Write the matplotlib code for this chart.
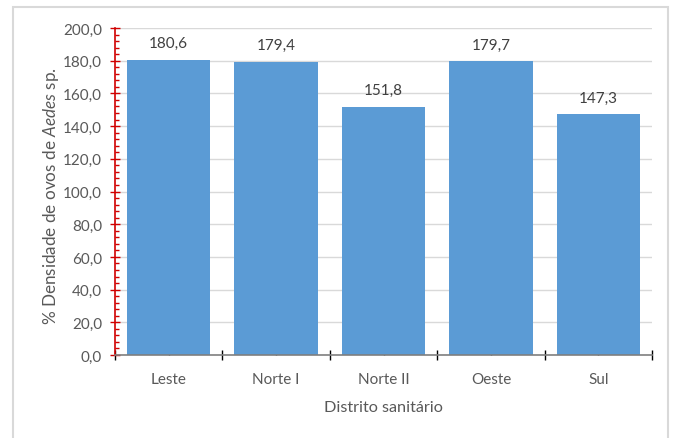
import matplotlib
matplotlib.use("Agg")
import matplotlib.pyplot as plt
from matplotlib.ticker import MultipleLocator, FuncFormatter, FixedLocator
from matplotlib.patches import Rectangle

categories = ["Leste", "Norte I", "Norte II", "Oeste", "Sul"]
values = [180.6, 179.4, 151.8, 179.7, 147.3]

FONT = "Lato"
plt.rcParams['font.family'] = [FONT, 'DejaVu Sans']
plt.rcParams['mathtext.fontset'] = 'custom'
plt.rcParams['mathtext.rm'] = FONT
plt.rcParams['mathtext.it'] = FONT + ':italic'

TXT = "#595959"
BAR = "#5B9BD5"
RED = "#D00000"

fig = plt.figure(figsize=(6.79, 4.39), dpi=100)
fig.patches.append(Rectangle((13/679, -0.01), (668-13)/679, 0.996 - 6/439 + 0.01,
                             transform=fig.transFigure, fill=False,
                             edgecolor="#d9d9d9", linewidth=1.5, zorder=0))
ax = fig.add_axes([115/679, 1 - 356/439, (652-115)/679, (356-29)/439])

x = list(range(len(categories)))
bars = ax.bar(x, values, width=0.775, color=BAR, zorder=2)
for xi, v in zip(x, values):
    ax.annotate(f"{v:.1f}".replace(".", ","), (xi, v), xytext=(0, 7),
                textcoords="offset points", ha="center", va="bottom",
                fontsize=11, color="#404040")

ax.set_xlim(-0.5, len(categories) - 0.5)
ax.set_ylim(0, 200)
ax.yaxis.set_major_locator(MultipleLocator(20))
ax.yaxis.set_minor_locator(MultipleLocator(4))
ax.yaxis.set_major_formatter(FuncFormatter(lambda v, p: f"{v:.1f}".replace(".", ",")))
ax.grid(axis="y", color="#d9d9d9", linewidth=1, zorder=0)
ax.set_axisbelow(True)

ax.set_xticks(x)
ax.set_xticklabels(categories)
ax.xaxis.set_minor_locator(FixedLocator([i - 0.5 for i in range(len(categories) + 1)]))

for s in ["top", "right"]:
    ax.spines[s].set_visible(False)
ax.spines["left"].set_color(RED)
ax.spines["left"].set_linewidth(1.2)
ax.spines["bottom"].set_color("#7f7f7f")
ax.spines["bottom"].set_linewidth(1.2)

ax.tick_params(axis="y", which="major", direction="inout", length=6.5, width=1,
               color=RED, labelsize=11, labelcolor=TXT, pad=6)
ax.tick_params(axis="y", which="minor", direction="in", length=3, width=1, color=RED)
ax.tick_params(axis="x", which="major", direction="in", length=3, width=1,
               color="black", labelsize=11, labelcolor=TXT, pad=12.5)
ax.tick_params(axis="x", which="minor", direction="inout", length=6.5, width=1,
               color="black")

ax.set_xlabel("Distrito sanitário", fontsize=11.7, color=TXT, labelpad=10)
ax.set_ylabel("% Densidade de ovos de $\\mathit{Aedes}$ sp.", fontsize=12.3, color=TXT)
ax.yaxis.set_label_coords(-0.1, 0.49)

fig.savefig("out.png", dpi=100)
